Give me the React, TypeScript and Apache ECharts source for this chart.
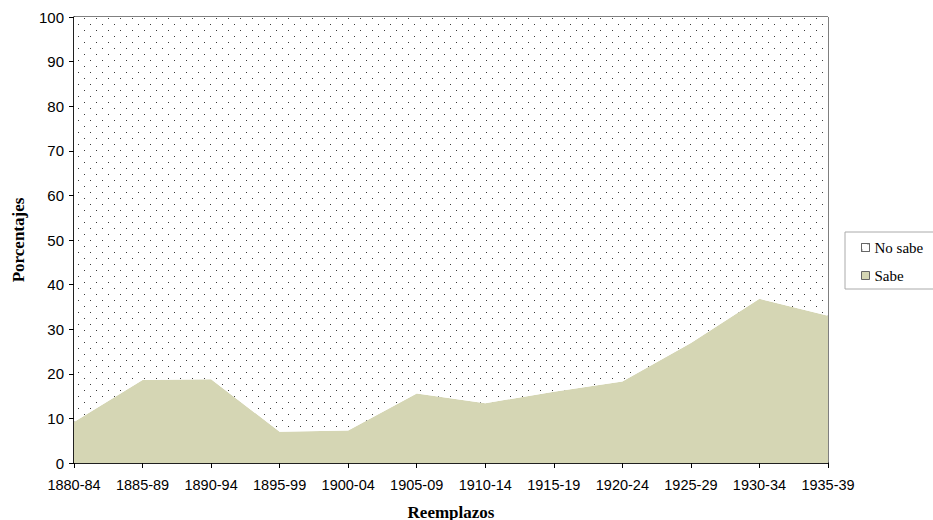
import React, { useEffect, useRef } from "react";
import * as echarts from "echarts";

const categories = ["1880-84", "1885-89", "1890-94", "1895-99", "1900-04", "1905-09", "1910-14", "1915-19", "1920-24", "1925-29", "1930-34", "1935-39"];
const sabe = [9.2, 18.6, 18.8, 7.0, 7.3, 15.6, 13.4, 16.0, 18.3, 26.9, 36.8, 33.0];
const noSabe = [90.8, 81.4, 81.2, 93.0, 92.7, 84.4, 86.6, 84.0, 81.7, 73.1, 63.2, 67.0];
const yTicks = [0, 10, 20, 30, 40, 50, 60, 70, 80, 90, 100];

export default function App() {
  const ref = useRef<HTMLDivElement>(null);
  useEffect(() => {
    if (!ref.current) return;
    const chart = echarts.init(ref.current, null, { renderer: "svg" });
    const dotDecal = {
      symbol: "rect",
      symbolSize: 1,
      color: "#3a3a3a",
      dashArrayX: [[1, 11], [0, 6, 1, 5]],
      dashArrayY: [1, 5],
      rotation: 0,
    };
    chart.setOption({
      animation: false,
      backgroundColor: "#ffffff",
      grid: {
        left: 74,
        right: 105,
        top: 17,
        bottom: 57,
        containLabel: false,
        outerBoundsMode: "none",
        show: true,
        borderColor: "#000000",
        borderWidth: 1,
        backgroundColor: "transparent",
      },
      legend: {
        orient: "vertical",
        left: 845,
        top: 232,
        data: ["No sabe", "Sabe"],
        icon: "rect",
        itemWidth: 8,
        itemHeight: 8,
        itemGap: 13,
        padding: [8, 40, 6, 16],
        borderColor: "#aaaaaa",
        borderWidth: 1,
        textStyle: { fontFamily: "Liberation Serif", fontSize: 15, color: "#000" },
        itemStyle: { borderColor: "#666666", borderWidth: 1 },
      },
      xAxis: {
        type: "category",
        data: categories,
        boundaryGap: false,
        name: "Reemplazos",
        nameLocation: "middle",
        nameGap: 49,
        nameMoveOverlap: false,
        nameTextStyle: { fontFamily: "Liberation Serif", fontWeight: "bold", fontSize: 17, color: "#000", verticalAlign: "middle" },
        axisLine: { lineStyle: { color: "#000", width: 1.5 } },
        axisTick: { show: true, length: 5, alignWithLabel: true, lineStyle: { color: "#000" } },
        axisLabel: { fontFamily: "Liberation Sans", fontSize: 14.5, color: "#000", margin: 14, interval: 0 },
        splitLine: { show: false },
      },
      yAxis: {
        type: "value",
        min: 0,
        max: 100,
        interval: 10,
        name: "Porcentajes",
        nameLocation: "middle",
        nameGap: 47,
        nameMoveOverlap: false,
        nameTextStyle: { fontFamily: "Liberation Serif", fontWeight: "bold", fontSize: 17, color: "#000" },
        axisLine: { show: true, lineStyle: { color: "#000", width: 1.5 } },
        axisTick: { show: true, length: 5, lineStyle: { color: "#000" } },
        axisLabel: {
          fontFamily: "Liberation Sans",
          fontSize: 15,
          color: "#000",
          margin: 10,
          formatter: (v: number) => (yTicks.includes(v) ? String(v) : ""),
        },
        splitLine: { show: false },
      },
      series: [
        {
          name: "Sabe",
          type: "line",
          stack: "total",
          data: sabe,
          symbol: "none",
          lineStyle: { width: 0 },
          itemStyle: { color: "#d5d6b4" },
          areaStyle: { color: "#d5d6b4", opacity: 1 },
        },
        {
          name: "No sabe",
          type: "line",
          stack: "total",
          data: noSabe,
          symbol: "none",
          lineStyle: { width: 0 },
          itemStyle: { color: "#ffffff", decal: dotDecal },
          areaStyle: { color: "#ffffff", opacity: 1 },
        },
      ],
    });
    return () => chart.dispose();
  }, []);
  return <div ref={ref} style={{ width: 933, height: 520, position: "absolute", left: 0, top: 0 }} />;
}
